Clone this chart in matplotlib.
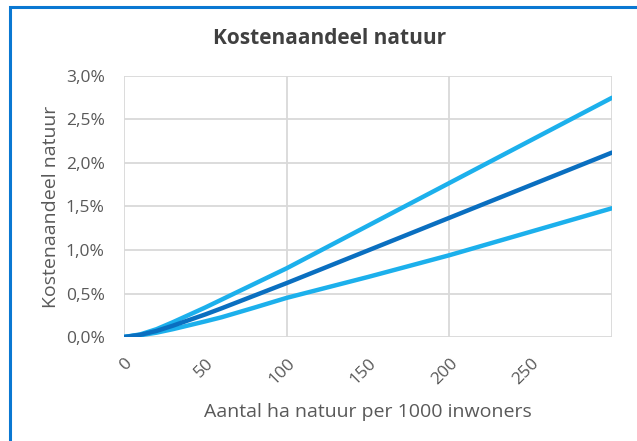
import matplotlib
matplotlib.use("Agg")
import matplotlib.pyplot as plt
from matplotlib.ticker import FixedLocator, FuncFormatter
from matplotlib.patches import Rectangle

# Data (x in ha per 1000 inwoners, y in %)
x_vals = [0, 10, 20, 30, 40, 50, 60, 80, 100, 150, 200, 250, 300]
upper = [0, 0.03, 0.09, 0.17, 0.255, 0.34, 0.43, 0.61, 0.79, 1.28, 1.77, 2.26, 2.75]
middle = [0, 0.025, 0.07, 0.13, 0.195, 0.26, 0.33, 0.475, 0.62, 0.995, 1.37, 1.745, 2.12]
lower = [0, 0.02, 0.05, 0.09, 0.135, 0.18, 0.227, 0.337, 0.45, 0.69, 0.94, 1.21, 1.48]
x_ticks = [0, 50, 100, 150, 200, 250]
y_ticks = [0.0, 0.5, 1.0, 1.5, 2.0, 2.5, 3.0]

plt.rcParams['font.family'] = ['Open Sans', 'DejaVu Sans']

fig = plt.figure(figsize=(6.37, 4.41), dpi=100)
ax = fig.add_axes([0.1947, 0.2358, 0.9608 - 0.1947, 0.8277 - 0.2358])

grid_c = '#d9d9d9'
text_c = '#595959'

ax.plot(x_vals, upper, color='#1cb0ec', lw=3.2, solid_capstyle='round', zorder=3)
ax.plot(x_vals, lower, color='#1cb0ec', lw=3.2, solid_capstyle='round', zorder=3)
ax.plot(x_vals, middle, color='#0a6fc0', lw=3.2, solid_capstyle='round', zorder=4)

ax.set_xlim(0, 300)
ax.set_ylim(0, 3.0)

ax.xaxis.set_major_locator(FixedLocator(x_ticks))
ax.yaxis.set_major_locator(FixedLocator(y_ticks))
ax.yaxis.set_major_formatter(FuncFormatter(lambda v, p: f"{v:.1f}%".replace('.', ',')))

for gx in [100, 200, 300]:
    ax.axvline(gx, color=grid_c, lw=1.3, zorder=1)
for gy in y_ticks:
    ax.axhline(gy, color=grid_c, lw=1.3, zorder=1)

for s in ax.spines.values():
    s.set_visible(False)
ax.axvline(0, color=grid_c, lw=1.3, zorder=1)

ax.tick_params(axis='both', length=0, labelcolor=text_c, labelsize=12.5)
ax.tick_params(axis='y', pad=14)
ax.tick_params(axis='x', pad=13)
for lab in ax.get_xticklabels():
    lab.set_rotation(45)
    lab.set_ha('right')
    lab.set_va('top')
    lab.set_rotation_mode('anchor')

ax.set_xlabel('Aantal ha natuur per 1000 inwoners', color=text_c, fontsize=14, labelpad=11)
ax.set_ylabel('Kostenaandeel natuur', color=text_c, fontsize=14, labelpad=4)

fig.text(0.517, 0.913, 'Kostenaandeel natuur', ha='center', va='center',
         fontsize=15, fontweight='bold', color='#404040')

# blue frame
fig.add_artist(Rectangle((10 / 637, -0.05), 1.2, 1 - 6.5 / 441 + 0.05, transform=fig.transFigure,
                         fill=False, edgecolor='#0a78d2', lw=2.2))

fig.savefig('out.png', dpi=100)
